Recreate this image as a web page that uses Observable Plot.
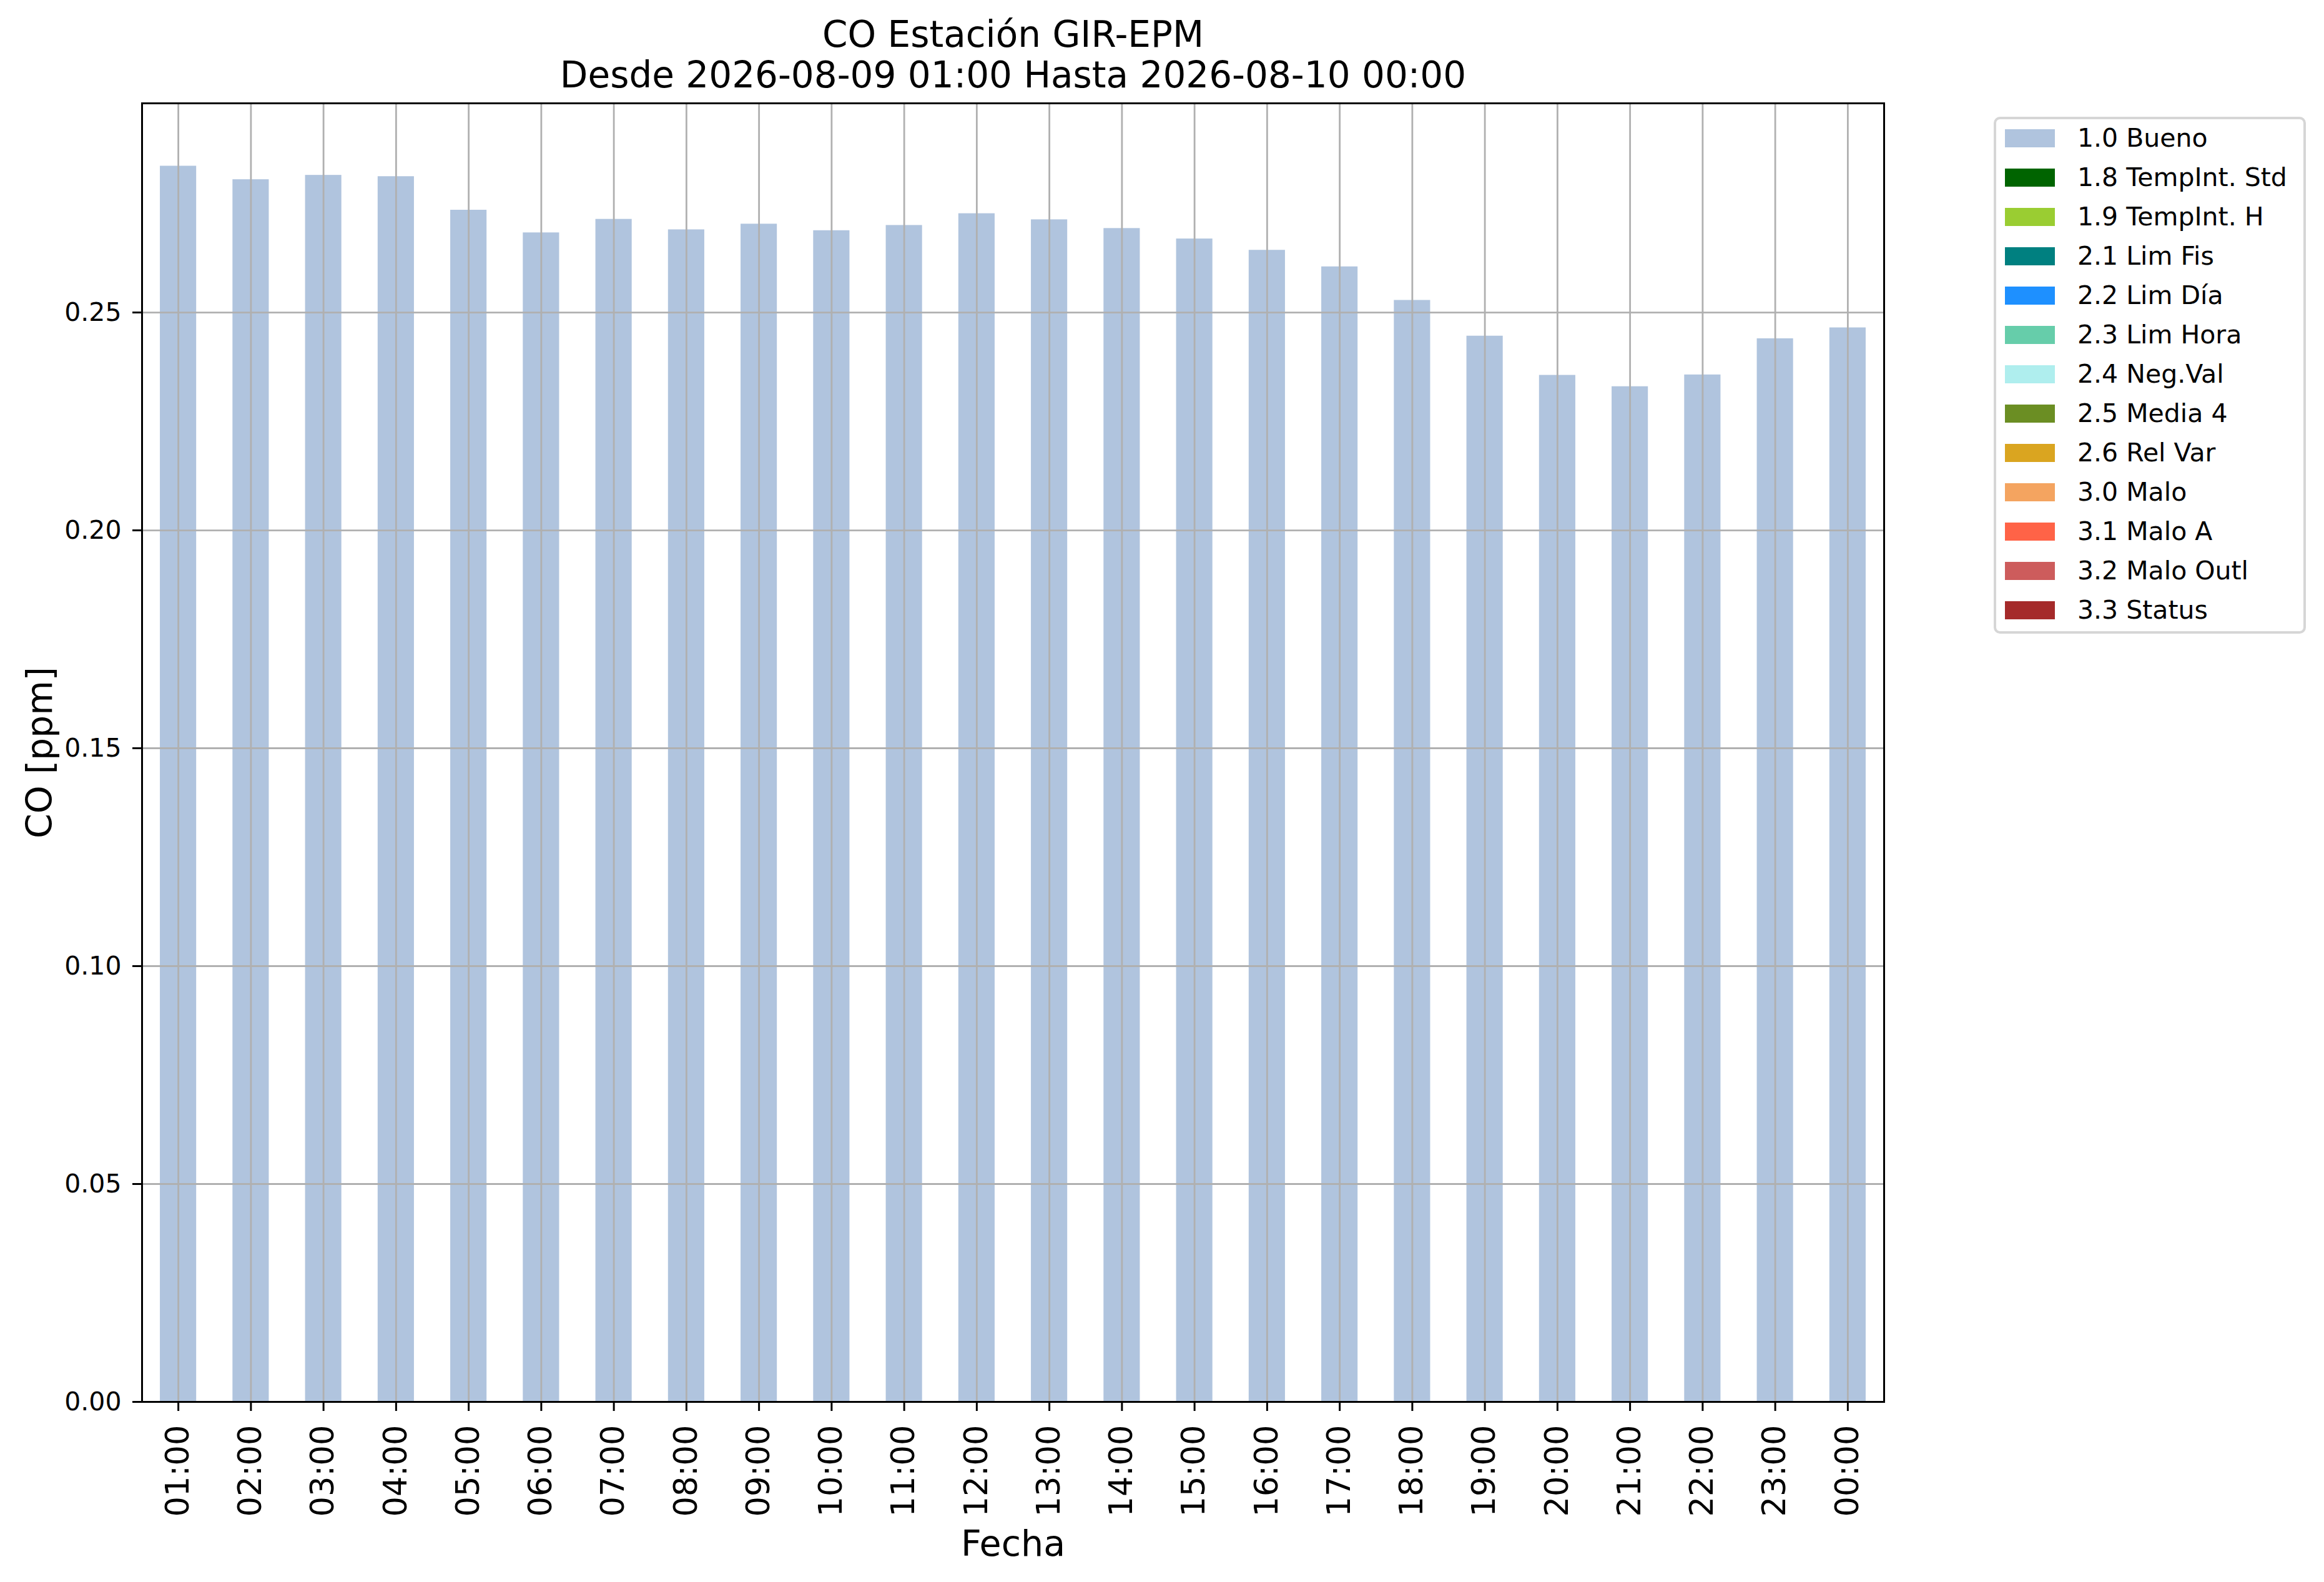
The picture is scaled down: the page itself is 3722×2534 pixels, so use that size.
<!DOCTYPE html>
<html>
<head>
<meta charset="utf-8">
<script src="https://cdn.jsdelivr.net/npm/d3@7"></script>
<script src="https://cdn.jsdelivr.net/npm/@observablehq/plot@0.6"></script>
<style>
  html, body { margin: 0; padding: 0; background: white; overflow: hidden; }
  #wrap { position: relative; width: 3722px; height: 2534px; font-family: 'DejaVu Sans', sans-serif; }
  #wrap svg { position: absolute; left: 0; top: 0; }
  #legend { position: absolute; left: 3193px; top: 187px; width: 492px; height: 820px;
            border: 4px solid #d6d6d6; border-radius: 10px; background: white; box-sizing: content-box; }
  .row { position: absolute; left: 0; height: 63px; display: flex; align-items: center; }
  .sw { width: 80px; height: 29px; margin-left: 14px; }
  .lb { margin-left: 36px; font-size: 41px; line-height: 1; color: black; white-space: nowrap; }
</style>
</head>
<body>
<div id="wrap"></div>
<script>
// ---- data ----
const horas = ["01:00","02:00","03:00","04:00","05:00","06:00","07:00","08:00","09:00","10:00","11:00","12:00",
               "13:00","14:00","15:00","16:00","17:00","18:00","19:00","20:00","21:00","22:00","23:00","00:00"];
const co = [0.2836,0.2805,0.2815,0.2812,0.2735,0.2683,0.2714,0.2690,0.2703,0.2688,0.2700,0.2727,
            0.2713,0.2693,0.2669,0.2643,0.2605,0.2528,0.2446,0.2356,0.2330,0.2357,0.2440,0.2465];
const yTicks = [0, 0.05, 0.10, 0.15, 0.20, 0.25];
const etiquetas = ["1.0 Bueno","1.8 TempInt. Std","1.9 TempInt. H","2.1 Lim Fis","2.2 Lim Día","2.3 Lim Hora",
                   "2.4 Neg.Val","2.5 Media 4","2.6 Rel Var","3.0 Malo","3.1 Malo A","3.2 Malo Outl","3.3 Status"];
const colores = ["#b0c4de","#006400","#9acd32","#008080","#1e90ff","#66cdaa",
                 "#afeeee","#6b8e23","#daa520","#f4a460","#ff6347","#cd5c5c","#a52a2a"];
const titulo = ["CO Estación GIR-EPM", "Desde 2026-08-09 01:00 Hasta 2026-08-10 00:00"];
const yLabel = "CO [ppm]";
const xLabel = "Fecha";

const rows = horas.map((h, i) => ({hora: h, co: co[i]}));

const chart = Plot.plot({
  width: 3722,
  height: 2534,
  marginTop: 165,
  marginBottom: 289,
  marginLeft: 227,
  marginRight: 705,
  style: {fontFamily: "'DejaVu Sans', sans-serif", background: "white", color: "black", overflow: "visible"},
  x: {type: "band", domain: horas, paddingInner: 0.5, paddingOuter: 0.25, round: false},
  y: {domain: [0, 0.298]},
  marks: [
    Plot.barY(rows, {x: "hora", y: "co", fill: colores[0]}),
    Plot.gridY(yTicks, {stroke: "#b0b0b0", strokeOpacity: 1, strokeWidth: 2.8}),
    Plot.gridX({stroke: "#b0b0b0", strokeOpacity: 1, strokeWidth: 2.8}),
    Plot.frame({stroke: "black", strokeWidth: 3}),
    Plot.axisY(yTicks, {tickFormat: d => d.toFixed(2), tickSize: 15, tickPadding: 18, fontSize: 41, label: null, strokeWidth: 3}),
    Plot.axisX({tickRotate: -90, tickSize: 15, tickPadding: 22, fontSize: 51, label: null, strokeWidth: 3}),
    Plot.text([yLabel], {text: d => d, frameAnchor: "left", textAnchor: "middle", rotate: -90, dx: -145, lineAnchor: "bottom", fontSize: 57}),
    Plot.text([xLabel], {text: d => d, frameAnchor: "bottom", textAnchor: "middle", dy: 246, lineAnchor: "bottom", fontSize: 57}),
    Plot.text([titulo.join("\n")], {text: d => d, frameAnchor: "top", textAnchor: "middle", dy: -26, lineAnchor: "bottom", fontSize: 58, lineHeight: 1.12})
  ]
});

const wrap = document.getElementById("wrap");
wrap.appendChild(chart);

// legend
const legend = document.createElement("div");
legend.id = "legend";
etiquetas.forEach((lab, i) => {
  const r = document.createElement("div");
  r.className = "row";
  r.style.top = (221 - 191 - 31.5 + 63 * i) + "px";
  const sw = document.createElement("div");
  sw.className = "sw";
  sw.style.background = colores[i];
  const t = document.createElement("span");
  t.className = "lb";
  t.textContent = lab;
  r.appendChild(sw);
  r.appendChild(t);
  legend.appendChild(r);
});
wrap.appendChild(legend);
</script>
</body>
</html>
